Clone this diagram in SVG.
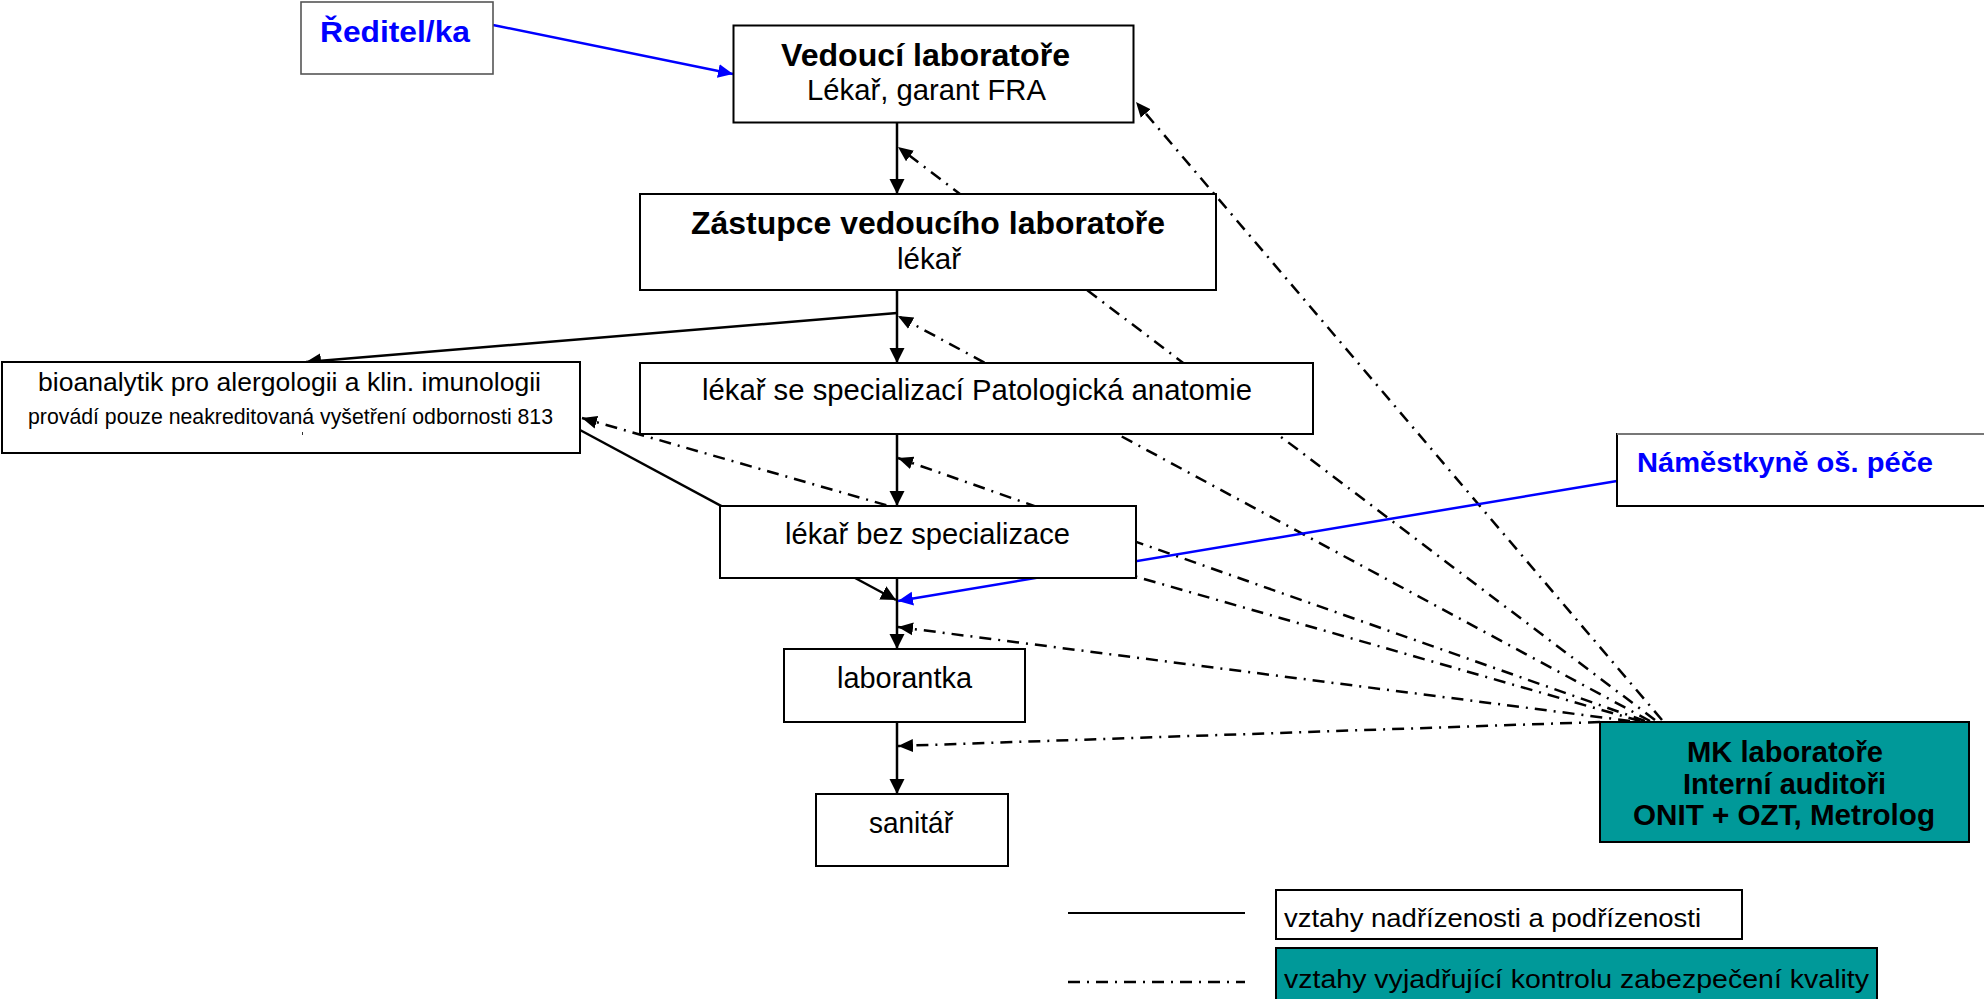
<svg xmlns="http://www.w3.org/2000/svg" width="1984" height="999" viewBox="0 0 1984 999">
<style>
.box{fill:#fff;stroke:#000;stroke-width:2}
.gbox{fill:#fff;stroke:#555;stroke-width:1.6}
.teal{fill:#009999;stroke:#000;stroke-width:2}
.t{font-family:"Liberation Sans",Arial,sans-serif;fill:#000}
.b{font-weight:bold}
.blue{fill:#0000ff}
.sol{stroke:#000;stroke-width:2.5;fill:none}
.dd{stroke:#000;stroke-width:2.5;fill:none;stroke-dasharray:12 7 2 7}
.bl{stroke:#0000ff;stroke-width:2.5;fill:none}
</style>
<defs>
<marker id="ah" markerUnits="userSpaceOnUse" markerWidth="16" markerHeight="16" refX="15" refY="8" orient="auto">
<path d="M0,0.5 L15,8 L0,15.5 Z" fill="#000"/>
</marker>
<marker id="ahd" markerUnits="userSpaceOnUse" markerWidth="16" markerHeight="16" refX="15" refY="8" orient="auto">
<path d="M0,1.5 L15,8 L0,14.5 Z" fill="#000"/>
</marker>
<marker id="ahb" markerUnits="userSpaceOnUse" markerWidth="16" markerHeight="16" refX="15" refY="8" orient="auto">
<path d="M0,1 L15,8 L0,15 Z" fill="#0000ff"/>
</marker>
</defs>
<text class="t" x="960" y="-6" font-size="26" style="fill:#ff0000">g</text>
<g id="connectors">
<line class="bl" x1="493" y1="25" x2="733" y2="74" marker-end="url(#ahb)"/>
<line class="sol" x1="897" y1="123" x2="897" y2="194" marker-end="url(#ah)"/>
<line class="sol" x1="897" y1="290" x2="897" y2="363" marker-end="url(#ah)"/>
<line class="sol" x1="897" y1="313" x2="306" y2="362" marker-end="url(#ah)"/>
<line class="sol" x1="897" y1="434" x2="897" y2="506" marker-end="url(#ah)"/>
<line class="sol" x1="897" y1="578" x2="897" y2="649" marker-end="url(#ah)"/>
<line class="sol" x1="897" y1="722" x2="897" y2="794" marker-end="url(#ah)"/>
<line class="sol" x1="580" y1="430" x2="896" y2="600" marker-end="url(#ah)"/>
<line class="dd" x1="1662" y1="720" x2="1136" y2="102" marker-end="url(#ahd)"/>
<line class="dd" x1="1655" y1="720" x2="898" y2="147" marker-end="url(#ahd)"/>
<line class="dd" x1="1650" y1="721" x2="898" y2="316" marker-end="url(#ahd)"/>
<line class="dd" x1="1645" y1="721" x2="898" y2="458" marker-end="url(#ahd)"/>
<line class="dd" x1="1640" y1="721" x2="582" y2="418" marker-end="url(#ahd)"/>
<line class="dd" x1="1630" y1="721" x2="898" y2="627" marker-end="url(#ahd)"/>
<line class="dd" x1="1600" y1="722" x2="898" y2="746" marker-end="url(#ahd)"/>
<line class="bl" x1="1617" y1="481" x2="898" y2="601" marker-end="url(#ahb)"/>
</g>
<g id="reditel">
<rect class="gbox" x="301" y="2" width="192" height="72"/>
<text class="t b blue" x="320" y="42" font-size="30" textLength="150" lengthAdjust="spacingAndGlyphs">Ředitel/ka</text>
</g>
<g id="vedouci">
<rect class="box" x="733.5" y="25.5" width="400" height="97"/>
<text class="t b" x="781" y="66" font-size="31" textLength="289" lengthAdjust="spacingAndGlyphs">Vedoucí laboratoře</text>
<text class="t" x="807" y="100" font-size="29.5" textLength="239" lengthAdjust="spacingAndGlyphs">Lékař, garant FRA</text>
</g>
<g id="zastupce">
<rect class="box" x="640" y="194" width="576" height="96"/>
<text class="t b" x="691" y="234" font-size="31" textLength="474" lengthAdjust="spacingAndGlyphs">Zástupce vedoucího laboratoře</text>
<text class="t" x="897" y="269" font-size="29.5" textLength="64" lengthAdjust="spacingAndGlyphs">lékař</text>
</g>
<g id="bioanalytik">
<rect class="box" x="2" y="362" width="578" height="91"/>
<text class="t" x="38" y="391" font-size="26.5" textLength="503" lengthAdjust="spacingAndGlyphs">bioanalytik pro alergologii a klin. imunologii</text>
<text class="t" x="28" y="424" font-size="21.5" textLength="525" lengthAdjust="spacingAndGlyphs">provádí pouze neakreditovaná vyšetření odbornosti 813</text>
<rect x="302" y="432" width="1" height="3" fill="#333"/>
</g>
<g id="patologicka">
<rect class="box" x="640" y="363" width="673" height="71"/>
<text class="t" x="702" y="400" font-size="29.5" textLength="550" lengthAdjust="spacingAndGlyphs">lékař se specializací Patologická anatomie</text>
</g>
<g id="lekar-bez">
<rect class="box" x="720" y="506" width="416" height="72"/>
<text class="t" x="785" y="544" font-size="29.5" textLength="285" lengthAdjust="spacingAndGlyphs">lékař bez specializace</text>
</g>
<g id="laborantka">
<rect class="box" x="784" y="649" width="241" height="73"/>
<text class="t" x="837" y="688" font-size="29.5" textLength="135" lengthAdjust="spacingAndGlyphs">laborantka</text>
</g>
<g id="sanitar">
<rect class="box" x="816" y="794" width="192" height="72"/>
<text class="t" x="869" y="833" font-size="29.5" textLength="84" lengthAdjust="spacingAndGlyphs">sanitář</text>
</g>
<g id="namestkyne">
<rect class="box" x="1617" y="434" width="380" height="72"/>
<line x1="1617" y1="434" x2="1990" y2="434" stroke="#777" stroke-width="2"/>
<text class="t b blue" x="1637" y="472" font-size="28.5" textLength="296" lengthAdjust="spacingAndGlyphs">Náměstkyně oš. péče</text>
</g>
<g id="mk">
<rect class="teal" x="1600" y="722" width="369" height="120"/>
<text class="t b" x="1687" y="762" font-size="29" textLength="196" lengthAdjust="spacingAndGlyphs">MK laboratoře</text>
<text class="t b" x="1683" y="794" font-size="29" textLength="203" lengthAdjust="spacingAndGlyphs">Interní auditoři</text>
<text class="t b" x="1633" y="825" font-size="29" textLength="302" lengthAdjust="spacingAndGlyphs">ONIT + OZT, Metrolog</text>
</g>
<g id="legend">
<line x1="1068" y1="913" x2="1245" y2="913" stroke="#000" stroke-width="2"/>
<rect class="box" x="1276" y="890" width="466" height="49"/>
<text class="t" x="1284" y="927" font-size="26" textLength="417" lengthAdjust="spacingAndGlyphs">vztahy nadřízenosti a podřízenosti</text>
<line x1="1068" y1="982" x2="1245" y2="982" stroke="#000" stroke-width="2.5" stroke-dasharray="12 7 2 7"/>
<rect class="teal" x="1276" y="948" width="601" height="60"/>
<text class="t" x="1284" y="988" font-size="26" textLength="585" lengthAdjust="spacingAndGlyphs">vztahy vyjadřující kontrolu zabezpečení kvality</text>
</g>
</svg>
